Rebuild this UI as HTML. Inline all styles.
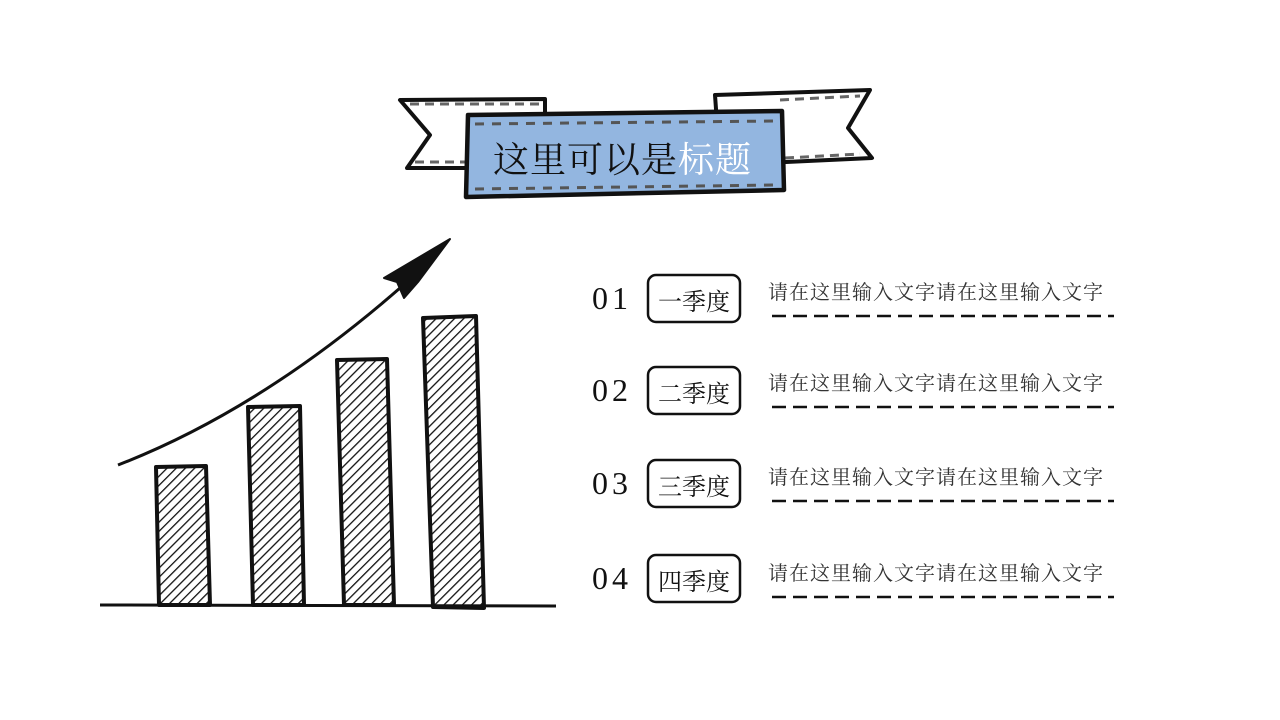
<!DOCTYPE html>
<html><head><meta charset="utf-8"><style>
html,body{margin:0;padding:0;background:#fff;}
body{width:1280px;height:720px;overflow:hidden;position:relative;}
svg{position:absolute;left:0;top:0;}
</style></head><body>
<svg width="1280" height="720" viewBox="0 0 1280 720" xmlns="http://www.w3.org/2000/svg">
<defs>
<pattern id="h" width="6.5" height="6.5" patternUnits="userSpaceOnUse" patternTransform="rotate(45)">
<line x1="0" y1="0" x2="0" y2="6.5" stroke="#111" stroke-width="2.6"/>
</pattern>
</defs>
<path d="M400 100 L545 99 L545 168 L407 168 L430 135 Z" fill="#fff" stroke="#111" stroke-width="4" stroke-linejoin="round"/>
<path d="M715 95 L870 90 L848 128 L872 158 L720 165 Z" fill="#fff" stroke="#111" stroke-width="4" stroke-linejoin="round"/>
<line x1="410" y1="104" x2="540" y2="104" stroke="#666" stroke-width="3" stroke-dasharray="9 6"/>
<line x1="415" y1="162" x2="470" y2="162" stroke="#666" stroke-width="3" stroke-dasharray="9 6"/>
<line x1="780" y1="100" x2="860" y2="96" stroke="#666" stroke-width="3" stroke-dasharray="9 6"/>
<line x1="785" y1="158" x2="860" y2="154" stroke="#666" stroke-width="3" stroke-dasharray="9 6"/>
<path d="M468 115 L782 111 L784 190 L466 197 Z" fill="#93b6e0" stroke="#111" stroke-width="4.5" stroke-linejoin="round"/>
<line x1="475" y1="124" x2="775" y2="121" stroke="#555" stroke-width="3" stroke-dasharray="9 8"/>
<line x1="475" y1="189" x2="775" y2="185" stroke="#555" stroke-width="3" stroke-dasharray="9 8"/>
<text x="493" y="172" font-family="Liberation Serif, Noto Serif CJK SC, serif" font-size="36" fill="#111" letter-spacing="1">这里可以是<tspan fill="#fff">标题</tspan></text>
<line x1="100" y1="605" x2="556" y2="606" stroke="#111" stroke-width="3"/>
<g fill="url(#h)" stroke="#111" stroke-width="4" stroke-linejoin="round">
<path d="M156 467 L206 466 L210 605 L159 605 Z"/>
<path d="M248 407 L300 406 L304 605 L253 605 Z"/>
<path d="M337 360 L387 359 L394 605 L344 605 Z"/>
<path d="M423 318 L476 316 L484 608 L433 607 Z"/>
</g>
<path d="M118 465 Q260 410 400 288" fill="none" stroke="#111" stroke-width="3"/>
<path d="M450 239 L384 278 L397 282 L404 298 L418 282 Z" fill="#111" stroke="#111" stroke-width="2" stroke-linejoin="round"/>
<g font-family="Liberation Serif, Noto Serif CJK SC, serif" fill="#111">
<g>
<text x="592" y="309" font-size="32" letter-spacing="-2">0 1</text>
<rect x="648" y="275" width="92" height="47" rx="8" fill="none" stroke="#111" stroke-width="2.5"/>
<text x="658" y="310" font-size="24">一季度</text>
<text x="768" y="299" font-size="20" fill="#333" letter-spacing="1">请在这里输入文字请在这里输入文字</text>
<line x1="772" y1="316" x2="1114" y2="316" stroke="#111" stroke-width="2.5" stroke-dasharray="14 7"/>
</g>
<g>
<text x="592" y="401" font-size="32" letter-spacing="-2">0 2</text>
<rect x="648" y="367" width="92" height="47" rx="8" fill="none" stroke="#111" stroke-width="2.5"/>
<text x="658" y="402" font-size="24">二季度</text>
<text x="768" y="390" font-size="20" fill="#333" letter-spacing="1">请在这里输入文字请在这里输入文字</text>
<line x1="772" y1="407" x2="1114" y2="407" stroke="#111" stroke-width="2.5" stroke-dasharray="14 7"/>
</g>
<g>
<text x="592" y="494" font-size="32" letter-spacing="-2">0 3</text>
<rect x="648" y="460" width="92" height="47" rx="8" fill="none" stroke="#111" stroke-width="2.5"/>
<text x="658" y="495" font-size="24">三季度</text>
<text x="768" y="484" font-size="20" fill="#333" letter-spacing="1">请在这里输入文字请在这里输入文字</text>
<line x1="772" y1="501" x2="1114" y2="501" stroke="#111" stroke-width="2.5" stroke-dasharray="14 7"/>
</g>
<g>
<text x="592" y="589" font-size="32" letter-spacing="-2">0 4</text>
<rect x="648" y="555" width="92" height="47" rx="8" fill="none" stroke="#111" stroke-width="2.5"/>
<text x="658" y="590" font-size="24">四季度</text>
<text x="768" y="580" font-size="20" fill="#333" letter-spacing="1">请在这里输入文字请在这里输入文字</text>
<line x1="772" y1="597" x2="1114" y2="597" stroke="#111" stroke-width="2.5" stroke-dasharray="14 7"/>
</g>
</g>
</svg>
</body></html>
